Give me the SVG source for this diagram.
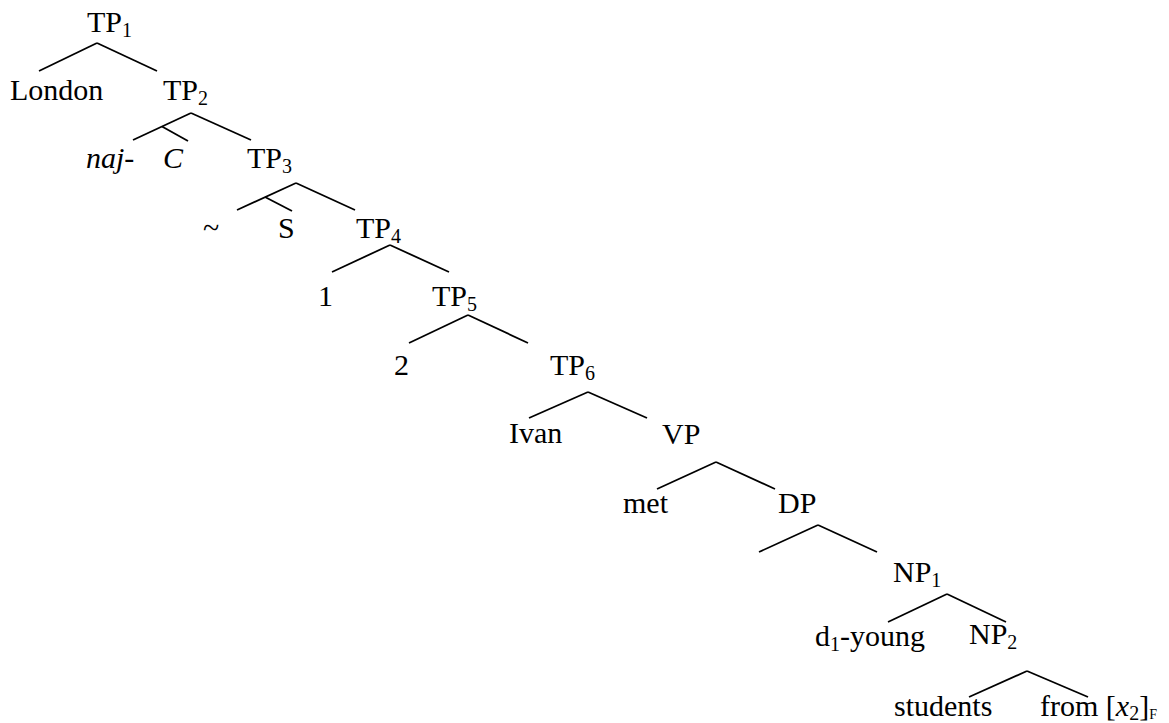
<svg xmlns="http://www.w3.org/2000/svg" width="1169" height="723" viewBox="0 0 1169 723">
<style>
text{font-family:"Liberation Serif","DejaVu Serif",serif;font-size:30px;fill:#000}
.sub{font-size:20px}
.it{font-style:italic}
#connectors line{stroke:#000;stroke-width:1.8;stroke-linecap:butt}
</style>
<rect width="1169" height="723" fill="#fff"/>
<g id="connectors">
<line x1="97" y1="43" x2="39" y2="71"/><line x1="97" y1="43" x2="157" y2="71"/>
<line x1="191" y1="113" x2="133" y2="140"/><line x1="191" y1="113" x2="251" y2="140"/><line x1="162" y1="126.5" x2="188" y2="141"/>
<line x1="296" y1="183" x2="237" y2="210"/><line x1="296" y1="183" x2="355" y2="210"/><line x1="265" y1="197" x2="292" y2="211"/>
<line x1="390" y1="245" x2="332" y2="272"/><line x1="390" y1="245" x2="449" y2="272"/>
<line x1="468" y1="315" x2="409" y2="343"/><line x1="468" y1="315" x2="528" y2="343"/>
<line x1="588" y1="392" x2="529" y2="418"/><line x1="588" y1="392" x2="647" y2="418"/>
<line x1="716" y1="462" x2="657" y2="489"/><line x1="716" y1="462" x2="775" y2="489"/>
<line x1="818" y1="525" x2="759" y2="552"/><line x1="818" y1="525" x2="877" y2="552"/>
<line x1="947" y1="594" x2="888" y2="622"/><line x1="947" y1="594" x2="1006" y2="622"/>
<line x1="1027" y1="671" x2="969" y2="697"/><line x1="1027" y1="671" x2="1088" y2="697"/>
</g>
<g id="TP1"><text x="87" y="32">TP<tspan class="sub" dy="5">1</tspan></text></g>
<g id="London"><text x="10" y="100">London</text></g>
<g id="TP2"><text x="163" y="100">TP<tspan class="sub" dy="5">2</tspan></text></g>
<g id="naj"><text x="86" y="168" class="it">naj-</text></g>
<g id="C"><text x="163" y="168" class="it">C</text></g>
<g id="TP3"><text x="247" y="168">TP<tspan class="sub" dy="5">3</tspan></text></g>
<g id="tilde"><text x="203" y="238">~</text></g>
<g id="S"><text x="278" y="238">S</text></g>
<g id="TP4"><text x="356" y="238">TP<tspan class="sub" dy="5">4</tspan></text></g>
<g id="one"><text x="318" y="306">1</text></g>
<g id="TP5"><text x="432" y="306">TP<tspan class="sub" dy="5">5</tspan></text></g>
<g id="two"><text x="394" y="375">2</text></g>
<g id="TP6"><text x="550" y="375">TP<tspan class="sub" dy="5">6</tspan></text></g>
<g id="Ivan"><text x="509" y="443">Ivan</text></g>
<g id="VP"><text x="662" y="444">VP</text></g>
<g id="met"><text x="623" y="513">met</text></g>
<g id="DP"><text x="778" y="513">DP</text></g>
<g id="NP1"><text x="893" y="582">NP<tspan class="sub" dy="5">1</tspan></text></g>
<g id="d1young"><text x="815" y="646">d<tspan class="sub" dy="5">1</tspan><tspan dy="-5">-young</tspan></text></g>
<g id="NP2"><text x="969" y="644">NP<tspan class="sub" dy="5">2</tspan></text></g>
<g id="students"><text x="894" y="716">students</text></g>
<g id="from"><text x="1040" y="716">from [<tspan class="it">x</tspan><tspan class="sub" dy="4">2</tspan><tspan dy="-4">]</tspan><tspan style="font-size:14px" dy="3">F</tspan></text></g>
</svg>
